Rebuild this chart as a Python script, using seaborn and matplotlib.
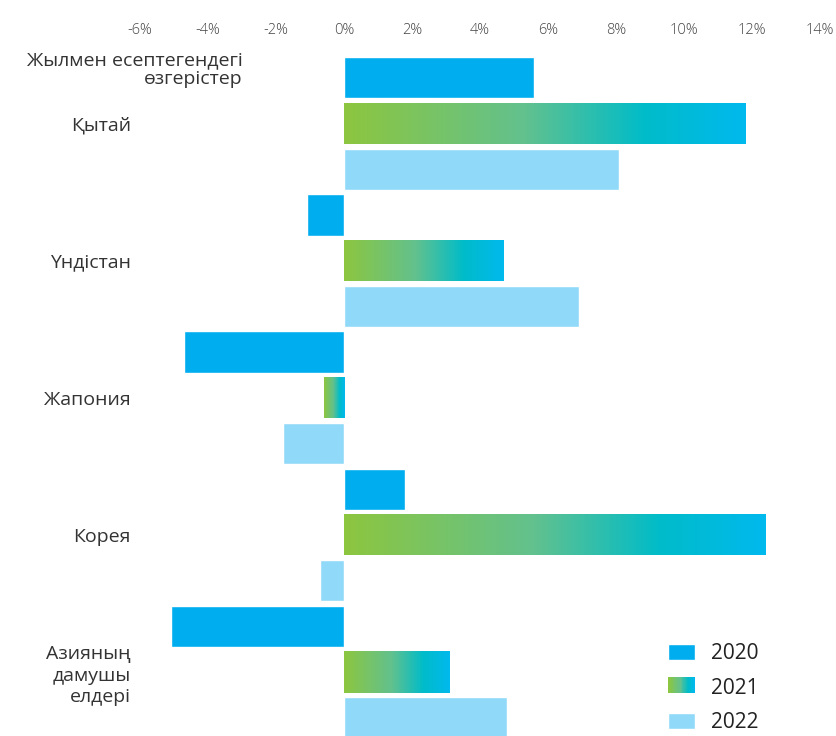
import numpy as np
import pandas as pd
import matplotlib
matplotlib.use("Agg")
import matplotlib.pyplot as plt
from matplotlib.colors import LinearSegmentedColormap
from matplotlib.patches import Rectangle
from matplotlib.legend_handler import HandlerBase
import seaborn as sns

# data (annual change, %)
countries = ["Қытай", "Үндістан", "Жапония", "Корея", "Азияның\nдамушы\nелдері"]
years = ["2020", "2021", "2022"]
v2020 = [5.6, -1.1, -4.7, 1.8, -5.1]
v2021 = [11.8, 4.7, -0.6, 12.4, 3.1]
v2022 = [8.1, 6.9, -1.8, -0.7, 4.8]
xticks = [-6, -4, -2, 0, 2, 4, 6, 8, 10, 12, 14]
header = "Жылмен есептегендегі\nөзгерістер"

c2020 = "#00AEEF"
c2022 = "#91D9F8"
grad = LinearSegmentedColormap.from_list(
    "g2021", [(0, "#8DC63F"), (0.45, "#62C18E"), (0.75, "#00BCC9"), (1, "#00B9EE")])

df = pd.DataFrame({
    "country": countries * 3,
    "year": [y for y in years for _ in countries],
    "value": v2020 + v2021 + v2022,
})

sns.set_style("white")
plt.rcParams["font.family"] = ["Open Sans", "DejaVu Sans"]

fig = plt.figure(figsize=(8.37, 7.36), dpi=100)
ax = fig.add_axes([128 / 837, 0, 704 / 837, 1 - 55 / 736])

sns.barplot(data=df, y="country", x="value", hue="year", orient="h",
            palette=[c2020, "#8DC63F", c2022], width=1.0, gap=0.1,
            saturation=1, ax=ax, legend=False)

xlim = (-6.35, 14.35)
ylim = (4.467, -0.5)

# gradient fill for the 2021 bars
img = grad(np.linspace(0, 1, 256))[np.newaxis, :, :]
for p in ax.containers[1]:
    x0, y0 = p.get_x(), p.get_y()
    w, h = p.get_width(), p.get_height()
    p.set_facecolor("none")
    p.set_edgecolor("none")
    im = ax.imshow(img, extent=(min(x0, x0 + w), max(x0, x0 + w), y0 + h, y0),
                   aspect="auto", interpolation="bilinear", zorder=p.get_zorder())
    im.set_clip_path(p)

ax.set_xlim(*xlim)
ax.set_ylim(*ylim)
ax.set_xticks(xticks)
ax.set_xticklabels([f"{t}%" for t in xticks], fontsize=10.5, color="#444444",
                   fontweight="light")
ax.xaxis.tick_top()
ax.tick_params(axis="x", length=0, pad=12)
ax.tick_params(axis="y", length=0, pad=-2)
for lab in ax.get_yticklabels():
    lab.set_fontsize(14)
    lab.set_color("#333333")
    lab.set_multialignment("right")
    lab.set_linespacing(1.25)
ax.set_xlabel("")
ax.set_ylabel("")
sns.despine(ax=ax, left=True, bottom=True, top=True, right=True)
ax.grid(False)

fig.text(243 / 837, 1 - 70 / 736, header, ha="right", va="center",
         multialignment="right", fontsize=14, color="#333333", linespacing=1.05)


class GradientHandler(HandlerBase):
    def create_artists(self, legend, orig_handle, xdescent, ydescent,
                       width, height, fontsize, trans):
        n = 30
        arts = []
        for i in range(n):
            r = Rectangle((xdescent + width * i / n, ydescent), width / n + 0.3, height,
                          facecolor=grad(i / (n - 1)), edgecolor="none", transform=trans)
            arts.append(r)
        return arts


h2020 = Rectangle((0, 0), 1, 1, facecolor=c2020)
h2021 = Rectangle((0, 0), 1, 1, facecolor="#8DC63F")
h2022 = Rectangle((0, 0), 1, 1, facecolor=c2022)
fig.legend([h2020, h2021, h2022], years, handler_map={h2021: GradientHandler()},
           loc="center left", bbox_to_anchor=(668 / 837, 1 - 688 / 736),
           frameon=False, fontsize=15, handlelength=1.3, handleheight=0.8,
           handletextpad=0.75, labelspacing=0.64, labelcolor="#222222",
           borderaxespad=0, borderpad=0.0)

fig.savefig("out.png", dpi=100)
